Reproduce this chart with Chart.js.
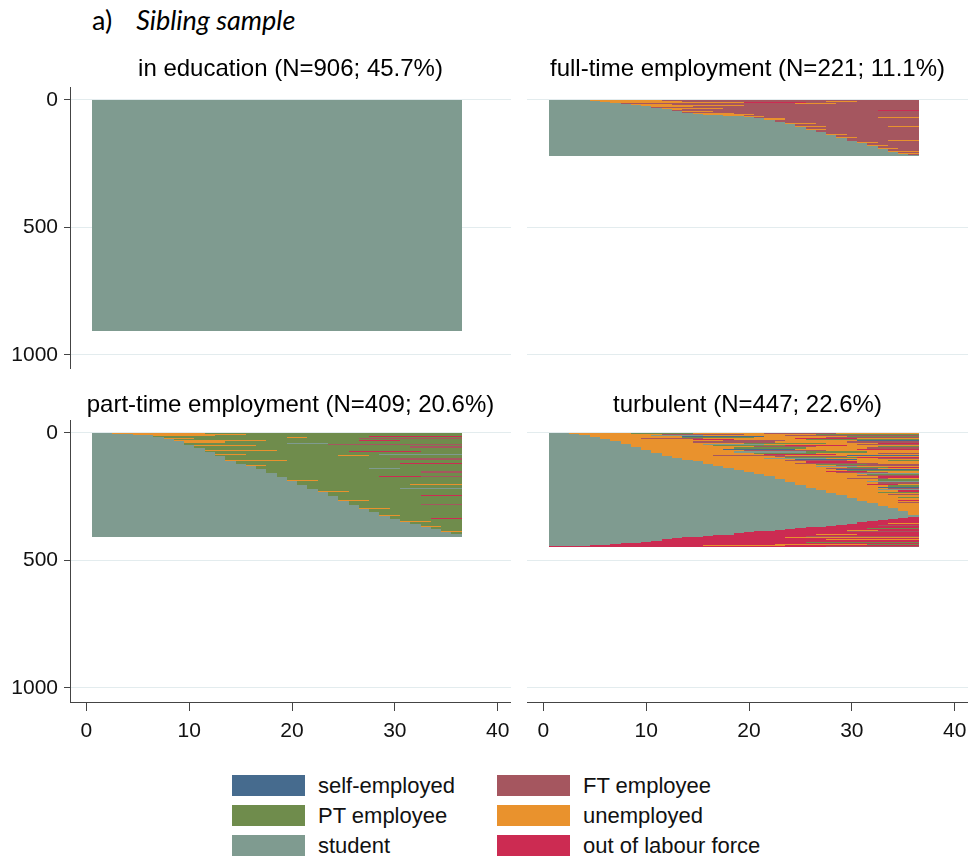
<!DOCTYPE html>
<html>
<head>
<meta charset="utf-8">
<script src="https://cdn.jsdelivr.net/npm/chart.js@4.4.1/dist/chart.umd.min.js"></script>
<style>
  body { margin: 0; background: #fff; }
  #page { position: relative; width: 968px; height: 856px; overflow: hidden; font-family: "Liberation Sans", Arial, sans-serif; }
  canvas { position: absolute; }
  #heading { position: absolute; left: 92px; top: 6px; font-family: Lato, "Open Sans", sans-serif; font-size: 27px; line-height: 1; color: #000; white-space: nowrap; }
  #heading i { margin-left: 24px; }
  #legend { position: absolute; left: 232px; top: 775px; display: grid; grid-template-columns: 265px 240px; row-gap: 9px; }
  .item { display: flex; align-items: center; height: 21px; font-size: 22px; color: #111; white-space: nowrap; }
  .swatch { flex: 0 0 73px; width: 73px; height: 21px; margin-right: 13px; }
</style>
</head>
<body>
<div id="page">
  <div id="heading">a)<i>Sibling sample</i></div>
  <canvas id="pEdu" width="511" height="319" style="left:0px;top:50px"></canvas>
  <canvas id="pFull" width="441" height="319" style="left:527px;top:50px"></canvas>
  <canvas id="pPart" width="511" height="366" style="left:0px;top:386px"></canvas>
  <canvas id="pTurb" width="441" height="366" style="left:527px;top:386px"></canvas>
  <div id="legend"></div>
</div>
<script>
// Monthly activity states: E self-employed, F FT employee, P PT employee,
// U unemployed, S student, O out of labour force.
const stateCodes  = ['E', 'F', 'P', 'U', 'S', 'O'];
const stateLabels = ['self-employed', 'FT employee', 'PT employee', 'unemployed', 'student', 'out of labour force'];
const stateColors = ['#466b8e', '#a5565f', '#6f8c4c', '#e9922d', '#7f9b90', '#cc2b52'];

const clusterNames  = ['in education', 'full-time employment', 'part-time employment', 'turbulent'];
const clusterShares = [45.7, 11.1, 20.6, 22.6];

const monthTicks = [0, 10, 20, 30, 40];
const rowTicks   = [0, 500, 1000];
const monthCount = 36;

// Each entry: [number of individuals, spell code]. A spell code lists the
// state held from the given month onward ("S U7 F11" = student from month 1,
// unemployed from month 7, FT employee from month 11 to the end).
const educationRows = [
  [906, 'S']
];

const fullTimeRows = [
  [2, 'S U5 F12'], [1, 'S U5 P9 F20'],
  [2, 'S F6'], [1, 'S U6 F14 U28 F31'],
  [3, 'S U7 F11'], [1, 'S U7 O20 F26'],
  [3, 'S U8 F16'], [2, 'S F8 U25 F29'],
  [3, 'S U9 F13'], [2, 'S F9'],
  [2, 'S U10 F20'], [3, 'S F10 U30'],
  [3, 'S U11 F15'], [2, 'S F11'],
  [4, 'S U12 F18'], [2, 'S F12 P26 F30'],
  [4, 'S U13 F14'], [3, 'S F13 O33'],
  [5, 'S U14 F17'], [2, 'S F14'],
  [3, 'S U15 F19'], [2, 'S F15'],
  [2, 'S U16 F21'],
  [2, 'S F17 U23 F25'],
  [2, 'S U18 F20'],
  [2, 'S F19'],
  [4, 'S U20 F22'],
  [5, 'S F21 U33'],
  [6, 'S U22 F24'],
  [7, 'S F23'],
  [6, 'S F24'], [4, 'S U24 F27'],
  [7, 'S F25'], [4, 'S U25 F28 U34'],
  [6, 'S F26'], [4, 'S U26 F28'],
  [8, 'S F27'], [3, 'S F27 O32 F35'],
  [7, 'S F28'], [4, 'S U28 F30'],
  [6, 'S F29'], [4, 'S U29 F31'],
  [8, 'S F30'], [3, 'S F30 U34'],
  [7, 'S F31'], [4, 'S U31 F33'],
  [8, 'S F32'], [3, 'S U32 F34'],
  [8, 'S F33'], [3, 'S U33 F35'],
  [8, 'S F34'], [3, 'S U34'],
  [6, 'S F35'], [3, 'S U35'],
  [5, 'S F36'],
  [1, 'S'],
  [3, 'S O5']
];

const partTimeRows = [
  [2, 'S U3 P12'],
  [2, 'S U4 P9 F30'],
  [2, 'S U5 P16'],
  [3, 'S P6 S14 P17'],
  [3, 'S U7 P13'], [2, 'S P7 O28'],
  [5, 'S P8 U20 P22'], [3, 'S U8 P11 F27'],
  [6, 'S P9'], [4, 'S U9 P18 O27 P31'],
  [6, 'S U10 P14'], [5, 'S P10 S20 P24'], [4, 'S P10 F24'],
  [5, 'S U11 P17'], [8, 'S P11 F32'],
  [6, 'S P12'], [4, 'S U12 P19'], [4, 'S P12 O26 P33'],
  [8, 'S P13'], [5, 'S U13 P16 S29'], [5, 'S P13 U25 P28'],
  [8, 'S P14'], [4, 'S P14 F30'], [6, 'S U14 P20'],
  [7, 'S P15'], [4, 'S P15 O31'],
  [6, 'S P16'], [3, 'S U16 P18'],
  [7, 'S P17'], [3, 'S P17 S28 P31'],
  [10, 'S P18'], [6, 'S P18 F33'],
  [11, 'S P19'], [6, 'S P19 O29 F33'],
  [10, 'S P20'], [5, 'S U20 P23'],
  [11, 'S P21'], [4, 'S P21 U32'],
  [12, 'S P22'], [5, 'S P22 S31'],
  [9, 'S P23'], [4, 'S U23 P26'],
  [11, 'S P24'], [4, 'S P24 O33'],
  [13, 'S P25'], [5, 'S U25 P28'],
  [12, 'S P26'], [4, 'S P26 F33'],
  [12, 'S P27'], [4, 'S U27 P30'],
  [10, 'S P28'], [3, 'S P28 S33'],
  [10, 'S P29'], [3, 'S U29 P31'],
  [10, 'S P30'], [3, 'S P30 O34'],
  [8, 'S P31'], [3, 'S U31 P34'],
  [8, 'S P32'], [2, 'S P32 U35'],
  [8, 'S P33'], [2, 'S U33 P35'],
  [9, 'S P34'],
  [9, 'S P35'], [2, 'S U35'],
  [10, 'S P36'],
  [9, 'S'],
  [2, 'S O10 S33']
];

const turbulentRows = [
  [2, 'S U3 P9 U15 F22 U29'], [1, 'S U3 O10 U18 E26'],
  [3, 'S U4 F12 U20 P27'], [2, 'S U4 P8 U17 O30'],
  [3, 'S U5 S11 U16 F24'], [3, 'S U5 E14 U22 P30'],
  [4, 'S U6 P14 U21 F28'], [4, 'S U6 F10 U16 O25 U31'],
  [4, 'S U7 O15 U19 P26'], [4, 'S U7 F18 U24 E31'], [3, 'S U7 P12 S20 U27'],
  [5, 'S U8 F15 U23 F30'], [4, 'S U8 P20 U28 O33'],
  [5, 'S U9 S16 U22 F31'], [4, 'S U9 P17 O24 U30'], [4, 'S U9 F21 U27 P33'],
  [6, 'S U10 P19 U26 F32'], [5, 'S U10 E18 U25 O31'],
  [6, 'S U11 F20 U28'], [5, 'S U11 S19 P26 U32'],
  [5, 'S U12 P21 U27 F33'], [4, 'S U12 O22 U29'], [4, 'S U12 F17 U24 E30'],
  [5, 'S U13 F23 U30'], [4, 'S U13 P24 O31'],
  [3, 'S U14 S22 U28 F33'], [2, 'S U14 E25 U31'],
  [4, 'S U15 F24 U30 P34'], [3, 'S U15 P27 U32'],
  [5, 'S U16 O26 U31'], [4, 'S U16 F25 U33'],
  [5, 'S U17 P27 F32'], [4, 'S U17 F29'],
  [4, 'S U18 S27 U31'], [4, 'S U18 P30 O34'],
  [4, 'S U19 F28 U33'], [4, 'S U19 E29'],
  [4, 'S U20 P30'], [4, 'S U20 O28 U32'],
  [4, 'S U21 F29 U34'], [4, 'S U21 S31'],
  [5, 'S U22 P32'], [4, 'S U22 F31'],
  [6, 'S U23 O33'], [6, 'S U23 F30 U34'],
  [6, 'S U24 P33'], [5, 'S U24 S32'],
  [6, 'S U25 F33'], [6, 'S U25 O32 U35'],
  [5, 'S U26 P34'], [5, 'S U26 E33'],
  [6, 'S U27 F34'], [4, 'S U27 S33'],
  [6, 'S U28 O35'], [5, 'S U28 P33'],
  [5, 'S U29'], [4, 'S U29 F34'],
  [6, 'S U30'], [4, 'S U30 P35'],
  [7, 'S U31'], [4, 'S U31 O35'],
  [6, 'S U32'], [4, 'S U32 F35'],
  [10, 'S U33'],
  [10, 'S U34'],
  [11, 'S U35'],
  [13, 'S U36'],
  [10, 'S'],
  [3, 'S O36'],
  [4, 'S O35'],
  [4, 'S O34'],
  [3, 'S O33'], [2, 'S U33 O35'],
  [4, 'S O32'],
  [3, 'S O31'], [2, 'S O31 U34'],
  [5, 'S O30'],
  [2, 'S O29'], [2, 'S O29 F33'],
  [3, 'S O28'],
  [2, 'S O27 U31'],
  [3, 'S O26'],
  [3, 'S O25 P32'],
  [4, 'S O24'],
  [2, 'S O23'], [2, 'S O23 U30 O33'],
  [3, 'S O22'],
  [4, 'S O21 F30'],
  [4, 'S O20'],
  [3, 'S O19'], [2, 'S O19 U27 O31'],
  [3, 'S O18 P29'],
  [3, 'S O17'],
  [2, 'S O16 F26'],
  [2, 'S O15'],
  [2, 'S O14 U24'],
  [3, 'S O13'], [2, 'S O13 S25 O29'],
  [3, 'S O12 U28'], [3, 'S O12'],
  [3, 'S O11 F22 U31'], [2, 'S O11'],
  [3, 'S O10 P26'],
  [3, 'S O9 U19 F30'],
  [3, 'S O8'],
  [2, 'S O7 U23 P32'],
  [2, 'S O6 F27'],
  [2, 'S O5 U16 O24'],
  [1, 'S O4 F20'],
  [1, 'S O3'],
  [1, 'S O2 U29'],
  [2, 'O F28']
];

// ---- turn spell codes into month-by-month states ----
function expandCode(code) {
  const spells = code.trim().split(/\s+/).map(t => ({ s: t[0], from: t.length > 1 ? parseInt(t.slice(1), 10) : 1 }));
  const seq = new Array(monthCount);
  spells.forEach((sp, i) => {
    const to = i + 1 < spells.length ? spells[i + 1].from : monthCount + 1;
    for (let m = sp.from; m < to; m++) seq[m - 1] = sp.s;
  });
  return seq;
}

// For every month, stack the individuals top-down and merge neighbouring rows
// sharing a state into one floating bar spanning [first row, last row].
function buildDatasets(rows) {
  const seqs = rows.map(r => expandCode(r[1]));
  const cells = {};
  stateCodes.forEach(s => { cells[s] = []; });
  for (let m = 1; m <= monthCount; m++) {
    let pos = 0, cur = null, runStart = 0;
    rows.forEach((r, i) => {
      const s = seqs[i][m - 1];
      if (s !== cur) {
        if (cur) cells[cur].push({ x: m, y: [runStart, pos] });
        cur = s; runStart = pos;
      }
      pos += r[0];
    });
    if (cur) cells[cur].push({ x: m, y: [runStart, pos] });
  }
  return stateCodes.map((s, i) => ({
    label: stateLabels[i],
    data: cells[s],
    backgroundColor: stateColors[i],
    borderWidth: 0,
    grouped: false,
    barPercentage: 1,
    categoryPercentage: 1,
    inflateAmount: 0
  }));
}

// Snap each cell's edges to whole pixels so neighbouring months and rows
// meet exactly, without anti-aliased seams between them.
const snapCells = {
  id: 'snapCells',
  beforeDatasetsDraw(chart) {
    chart.getSortedVisibleDatasetMetas().forEach(meta => {
      meta.data.forEach(el => {
        const l = Math.round(el.x - el.width / 2);
        const r = Math.round(el.x + el.width / 2);
        el.x = (l + r) / 2;
        el.width = r - l;
        el.y = Math.round(el.y);
        el.base = Math.round(el.base);
        el.height = el.base - el.y;
      });
    });
  }
};

const fontFamily = '"Liberation Sans", Arial, sans-serif';
Chart.defaults.font.family = fontFamily;
Chart.defaults.color = '#111';

function zeroPadding(s) {
  s.paddingTop = 0; s.paddingBottom = 0; s.paddingLeft = 0; s.paddingRight = 0;
}

function makePanel(canvasId, rows, idx, withYAxis, withXAxis) {
  const n = rows.reduce((a, r) => a + r[0], 0);
  const title = `${clusterNames[idx]} (N=${n}; ${clusterShares[idx].toFixed(1)}%)`;
  new Chart(document.getElementById(canvasId), {
    type: 'bar',
    data: { datasets: buildDatasets(rows) },
    plugins: [snapCells],
    options: {
      responsive: false,
      animation: false,
      events: [],
      layout: { padding: 0 },
      plugins: {
        legend: { display: false },
        tooltip: { enabled: false },
        title: {
          display: true,
          text: title,
          fullSize: false,
          color: '#000',
          font: { size: 24, weight: 'normal', family: fontFamily },
          padding: withXAxis ? { top: 4.6, bottom: 0.85 } : { top: 4.6, bottom: 3.85 }
        }
      },
      scales: {
        x: {
          type: 'linear',
          display: withXAxis,
          min: -1.6,
          max: 41.3,
          offset: false,
          afterBuildTicks: s => { s.ticks = monthTicks.map(v => ({ value: v })); },
          afterFit: s => { zeroPadding(s); if (withXAxis) s.height = 50; },
          grid: { drawOnChartArea: false, drawTicks: true, tickLength: 9, tickColor: '#444', offset: false },
          border: { display: true, color: '#444', width: 1 },
          ticks: { padding: 8, color: '#111', font: { size: 21 }, maxRotation: 0, callback: v => String(v) }
        },
        y: {
          type: 'linear',
          reverse: true,
          min: -50,
          max: 1055,
          afterBuildTicks: s => { s.ticks = rowTicks.map(v => ({ value: v })); },
          afterFit: s => { zeroPadding(s); s.width = withYAxis ? 70 : 0; },
          grid: { color: '#e3ecee', lineWidth: 1, drawTicks: withYAxis, tickLength: 6, tickColor: '#444' },
          border: { display: withYAxis, color: '#444', width: 1 },
          ticks: { display: withYAxis, padding: 6, color: '#111', font: { size: 21 }, callback: v => String(v) }
        }
      }
    }
  });
}

makePanel('pEdu', educationRows, 0, true, false);
makePanel('pFull', fullTimeRows, 1, false, false);
makePanel('pPart', partTimeRows, 2, true, true);
makePanel('pTurb', turbulentRows, 3, false, true);

// legend, two columns, filled row by row
const legend = document.getElementById('legend');
stateCodes.forEach((s, i) => {
  const item = document.createElement('div');
  item.className = 'item';
  const sw = document.createElement('span');
  sw.className = 'swatch';
  sw.style.background = stateColors[i];
  item.appendChild(sw);
  item.appendChild(document.createTextNode(stateLabels[i]));
  legend.appendChild(item);
});
</script>
</body>
</html>
